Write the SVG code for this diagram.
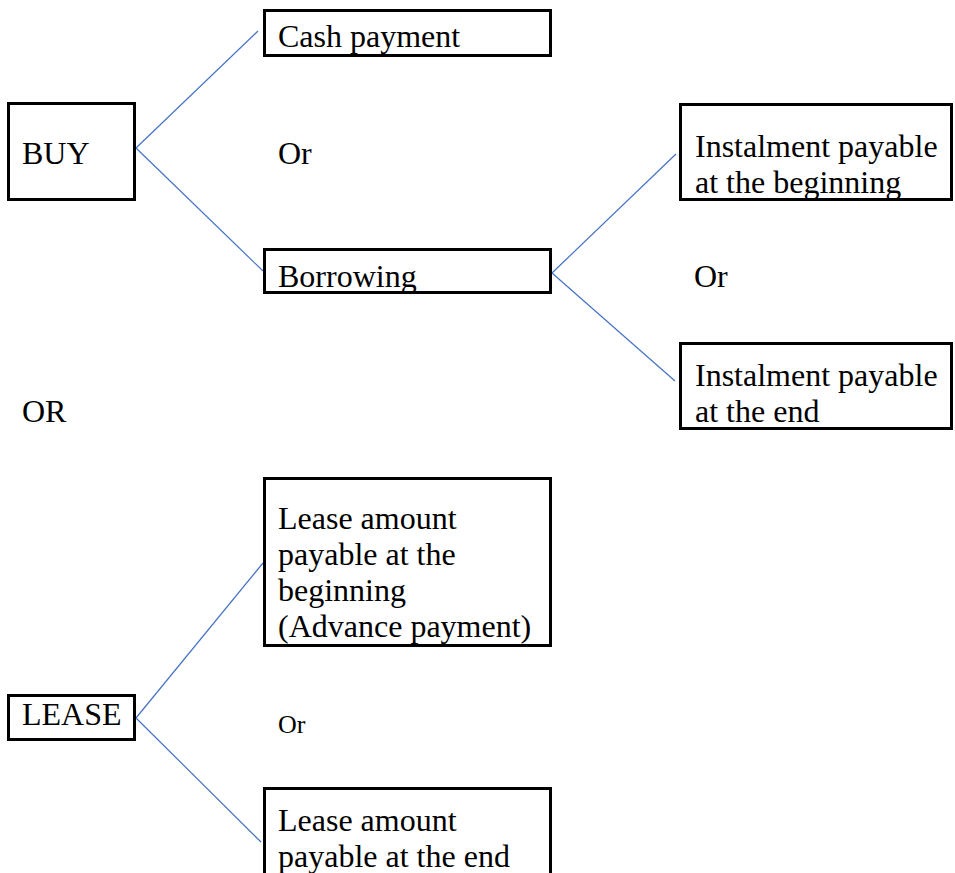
<svg xmlns="http://www.w3.org/2000/svg" width="955" height="873" viewBox="0 0 955 873">
<style>
.box{fill:#fff;stroke:#000;stroke-width:3}
.t{font-family:"Liberation Serif","Times New Roman",serif;font-size:32px;fill:#000}
.s{font-size:26px}
.c{stroke:#4472C4;stroke-width:1.2;fill:none}
</style>
<rect width="955" height="873" fill="#fff"/>
<g id="connectors">
<line class="c" x1="136" y1="148" x2="258" y2="31"/>
<line class="c" x1="136" y1="148" x2="263" y2="271"/>
<line class="c" x1="552" y1="273" x2="676" y2="154"/>
<line class="c" x1="552" y1="273" x2="675" y2="381"/>
<line class="c" x1="136" y1="718" x2="263" y2="563"/>
<line class="c" x1="136" y1="718" x2="261" y2="842"/>
</g>
<g id="buy"><rect class="box" x="8.5" y="103.5" width="126" height="96"/><text class="t" x="22" y="164">BUY</text></g>
<g id="cash"><rect class="box" x="264.5" y="10.5" width="286" height="45"/><text class="t" x="278" y="47">Cash payment</text></g>
<g id="or1"><text class="t" x="278" y="164">Or</text></g>
<g id="borrowing"><rect class="box" x="264.5" y="249.5" width="286" height="43"/><text class="t" x="278" y="287">Borrowing</text></g>
<g id="inst-begin"><rect class="box" x="680.5" y="104.5" width="271" height="95"/><text class="t" x="695" y="157">Instalment payable</text><text class="t" x="695" y="193">at the beginning</text></g>
<g id="or2"><text class="t" x="694" y="287">Or</text></g>
<g id="inst-end"><rect class="box" x="680.5" y="343.5" width="271" height="85"/><text class="t" x="695" y="386">Instalment payable</text><text class="t" x="695" y="422">at the end</text></g>
<g id="or-main"><text class="t" x="22" y="422">OR</text></g>
<g id="lease-begin"><rect class="box" x="264.5" y="478.5" width="286" height="167"/><text class="t" x="278" y="529">Lease amount</text><text class="t" x="278" y="565">payable at the</text><text class="t" x="278" y="601">beginning</text><text class="t" x="278" y="637">(Advance payment)</text></g>
<g id="lease"><rect class="box" x="8.5" y="695.5" width="126" height="44"/><text class="t" x="22" y="725">LEASE</text></g>
<g id="or3"><text class="t s" x="278" y="733">Or</text></g>
<g id="lease-end"><rect class="box" x="264.5" y="788.5" width="286" height="100"/><text class="t" x="278" y="831">Lease amount</text><text class="t" x="278" y="867">payable at the end</text></g>
</svg>
